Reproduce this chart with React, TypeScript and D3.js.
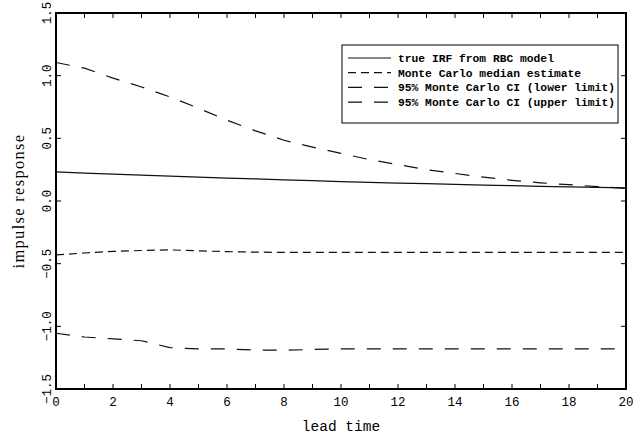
import { useEffect, useRef } from 'react';
import * as d3 from 'd3';

// lead times 0..20
const leadTimes = d3.range(0, 21);

// values
const trueIrf = [0.232, 0.223, 0.214, 0.206, 0.198, 0.19, 0.183, 0.176, 0.169, 0.162, 0.155,
  0.149, 0.143, 0.138, 0.132, 0.127, 0.122, 0.117, 0.113, 0.108, 0.104];
const medianEst = [-0.43, -0.415, -0.402, -0.395, -0.39, -0.398, -0.404, -0.408, -0.41, -0.41, -0.41,
  -0.41, -0.41, -0.41, -0.41, -0.41, -0.41, -0.41, -0.41, -0.41, -0.41];
const lowerCI = [-1.055, -1.085, -1.1, -1.115, -1.17, -1.18, -1.18, -1.19, -1.19, -1.185, -1.18,
  -1.18, -1.18, -1.18, -1.18, -1.18, -1.18, -1.18, -1.18, -1.18, -1.18];
const upperCI = [1.105, 1.06, 0.98, 0.91, 0.83, 0.74, 0.645, 0.56, 0.485, 0.43, 0.38,
  0.33, 0.29, 0.25, 0.22, 0.19, 0.165, 0.145, 0.13, 0.115, 0.1];

const seriesNames = [
  'true IRF from RBC model',
  'Monte Carlo median estimate',
  '95% Monte Carlo CI (lower limit)',
  '95% Monte Carlo CI (upper limit)',
];

const xTicks = [0, 2, 4, 6, 8, 10, 12, 14, 16, 18, 20];
const yTicks = [-1.5, -1.0, -0.5, 0.0, 0.5, 1.0, 1.5];

export default function App() {
  const svgRef = useRef<SVGSVGElement>(null);

  useEffect(() => {
    if (!svgRef.current) return;
    const svg = d3.select(svgRef.current);
    svg.selectAll('*').remove();

    const W = 636, H = 439;
    const margin = { top: 13, right: 10, bottom: 50, left: 56 };
    const x = d3.scaleLinear().domain([0, 20]).range([margin.left, W - margin.right]);
    const y = d3.scaleLinear().domain([-1.5, 1.5]).range([H - margin.bottom, margin.top]);
    const mono = 'Liberation Mono, Courier New, monospace';

    svg.append('rect').attr('width', W).attr('height', H).attr('fill', '#fff');

    // tick marks (inward, all four sides)
    const tk = svg.append('g').attr('stroke', '#000').attr('stroke-width', 1);
    d3.range(1, 20).forEach(v => {
      tk.append('line').attr('x1', x(v)).attr('x2', x(v)).attr('y1', y(-1.5)).attr('y2', y(-1.5) - 5);
      tk.append('line').attr('x1', x(v)).attr('x2', x(v)).attr('y1', y(1.5)).attr('y2', y(1.5) + 5);
    });
    yTicks.slice(1, -1).forEach(v => {
      tk.append('line').attr('x1', x(0)).attr('x2', x(0) + 5).attr('y1', y(v)).attr('y2', y(v));
      tk.append('line').attr('x1', x(20)).attr('x2', x(20) - 5).attr('y1', y(v)).attr('y2', y(v));
    });

    // lines
    const line = d3.line<number>().x((_, i) => x(leadTimes[i])).y(d => y(d));
    const series = [
      { values: trueIrf, dash: null },
      { values: medianEst, dash: '8,5' },
      { values: lowerCI, dash: '14,12' },
      { values: upperCI, dash: '14,12' },
    ];
    series.forEach(s => {
      svg.append('path')
        .attr('d', line(s.values))
        .attr('fill', 'none')
        .attr('stroke', '#111')
        .attr('stroke-width', 1.2)
        .attr('stroke-dasharray', s.dash);
    });

    // frame
    svg.append('rect')
      .attr('x', x(0)).attr('y', y(1.5))
      .attr('width', x(20) - x(0)).attr('height', y(-1.5) - y(1.5))
      .attr('fill', 'none').attr('stroke', '#000').attr('stroke-width', 2);

    // x tick labels
    svg.append('g').selectAll('text').data(xTicks).join('text')
      .attr('x', d => x(d)).attr('y', 406)
      .attr('text-anchor', 'middle')
      .attr('font-family', mono).attr('font-size', 12.5)
      .text(d => String(d));

    // y tick labels, rotated
    svg.append('g').selectAll('text').data(yTicks).join('text')
      .attr('transform', d => `translate(51,${y(d)}) rotate(-90)`)
      .attr('text-anchor', 'middle')
      .attr('font-family', mono).attr('font-size', 12.5)
      .text(d => d3.format('.1f')(d).replace('-', '\u2212'));

    // axis titles
    svg.append('text')
      .attr('x', (x(0) + x(20)) / 2).attr('y', 431)
      .attr('text-anchor', 'middle')
      .attr('font-family', mono).attr('font-size', 14.5)
      .text('lead time');
    svg.append('text')
      .attr('transform', `translate(24,${(y(-1.5) + y(1.5)) / 2}) rotate(-90)`)
      .attr('text-anchor', 'middle')
      .attr('font-family', 'Liberation Serif, serif').attr('font-size', 16.5)
      .attr('letter-spacing', 1.3)
      .text('impulse response');

    // legend
    const lg = svg.append('g');
    lg.append('rect')
      .attr('x', 342).attr('y', 45).attr('width', 276).attr('height', 78)
      .attr('fill', '#fff').attr('stroke', '#000').attr('stroke-width', 1);
    seriesNames.forEach((name, i) => {
      const cy = 58 + i * 14.7;
      lg.append('line')
        .attr('x1', 348).attr('x2', 391).attr('y1', cy).attr('y2', cy)
        .attr('stroke', '#111').attr('stroke-width', 1.2)
        .attr('stroke-dasharray', series[i].dash);
      lg.append('text')
        .attr('x', 398).attr('y', cy + 4)
        .attr('font-family', mono).attr('font-size', 11.3).attr('font-weight', 'bold')
        .text(name);
    });
  }, []);

  return (
    <svg ref={svgRef} width={636} height={439}
      style={{ position: 'absolute', left: 0, top: 0, display: 'block' }} />
  );
}
